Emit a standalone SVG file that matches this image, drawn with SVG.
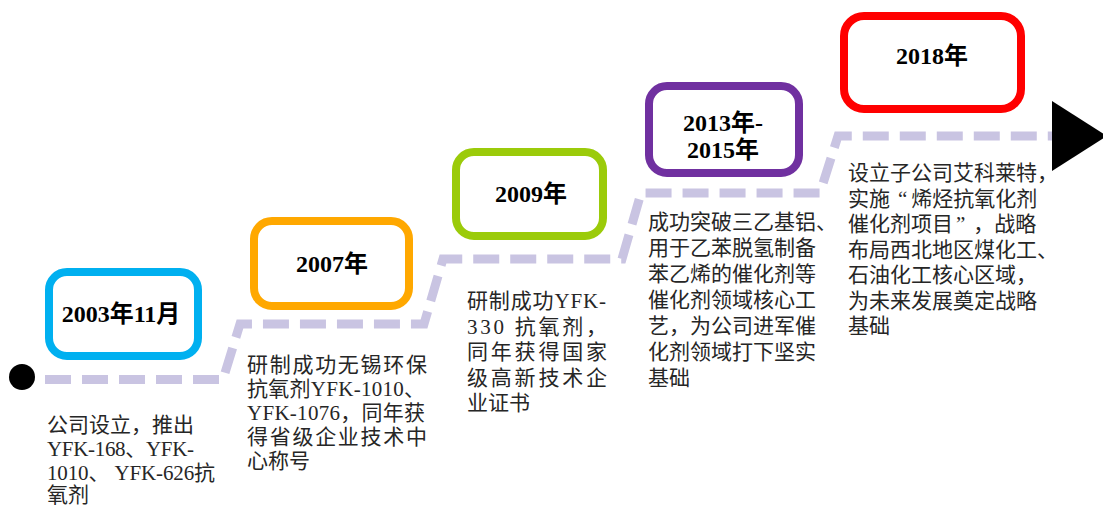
<svg xmlns="http://www.w3.org/2000/svg" width="1103" height="507" viewBox="0 0 1103 507">
<style>
.box{fill:#fff;stroke-width:8}
.title{font-family:"Liberation Serif","Noto Sans CJK SC",serif;font-weight:bold;font-size:24px;fill:#000;text-anchor:middle}
.body{font-family:"Liberation Serif","Noto Sans CJK SC",serif;font-size:21px;fill:#262626}
.path{fill:none;stroke:#c9c4e2;stroke-width:9;stroke-dasharray:26 11;stroke-linejoin:miter}
</style>
<defs>
<marker id="arrow" markerUnits="userSpaceOnUse" markerWidth="60" markerHeight="72" refX="0" refY="35" orient="auto">
<path d="M0,0 L55,35 L0,70 Z" fill="#000"/>
</marker>
</defs>
<rect width="1103" height="507" fill="#fff"/>
<g id="connectors">
<circle cx="22" cy="377" r="13" fill="#000"/>
<polyline class="path" points="45,379.5 223,379.5 240,324 424,324 443,259 622,259 641,193 820,193 838,136 1052,136" marker-end="url(#arrow)"/>
</g>
<g id="node-2003">
<rect class="box" x="49" y="272" width="149" height="84" rx="18" stroke="#00b0f0"/>
<text class="title" x="121" y="322">2003年11月</text>
<text class="body"><tspan x="47" y="432" textLength="147">公司设立，推出</tspan><tspan x="47" y="456" textLength="147">YFK-168、YFK-</tspan><tspan x="47" y="480" textLength="168">1010、 YFK-626抗</tspan><tspan x="47" y="502">氧剂</tspan></text>
</g>
<g id="node-2007">
<rect class="box" x="254" y="221" width="155" height="85" rx="18" stroke="#ffa800"/>
<text class="title" x="332" y="272">2007年</text>
<text class="body"><tspan x="247" y="372" textLength="180">研制成功无锡环保</tspan><tspan x="247" y="396" textLength="178">抗氧剂YFK-1010、</tspan><tspan x="247" y="420" textLength="178">YFK-1076，同年获</tspan><tspan x="247" y="444" textLength="180">得省级企业技术中</tspan><tspan x="247" y="468">心称号</tspan></text>
</g>
<g id="node-2009">
<rect class="box" x="456" y="152" width="147" height="84" rx="18" stroke="#9bcb0a"/>
<text class="title" x="531" y="202">2009年</text>
<text class="body"><tspan x="467" y="308" textLength="139">研制成功YFK-</tspan><tspan x="467" y="333.5" textLength="140">330  抗氧剂，</tspan><tspan x="467" y="359" textLength="140">同年获得国家</tspan><tspan x="467" y="384.5" textLength="140">级高新技术企</tspan><tspan x="467" y="410">业证书</tspan></text>
</g>
<g id="node-2013">
<rect class="box" x="649" y="86" width="150" height="87" rx="18" stroke="#7030a0"/>
<text class="title"><tspan x="723" y="131">2013年-</tspan><tspan x="723" y="158">2015年</tspan></text>
<text class="body"><tspan x="648" y="229">成功突破三乙基铝、</tspan><tspan x="648" y="255">用于乙苯脱氢制备</tspan><tspan x="648" y="281">苯乙烯的催化剂等</tspan><tspan x="648" y="307">催化剂领域核心工</tspan><tspan x="648" y="333">艺，为公司进军催</tspan><tspan x="648" y="359">化剂领域打下坚实</tspan><tspan x="648" y="385">基础</tspan></text>
</g>
<g id="node-2018">
<rect class="box" x="844" y="16" width="177" height="93" rx="20" stroke="#ff0000"/>
<text class="title" x="932" y="64">2018年</text>
<text class="body"><tspan x="848" y="180">设立子公司艾科莱特，</tspan><tspan x="848" y="205.5">实施</tspan><tspan dx="8">“</tspan><tspan dx="4">烯烃抗氧化剂</tspan><tspan x="848" y="231">催化剂项目</tspan><tspan dx="3">”</tspan><tspan dx="8">，战略</tspan><tspan x="848" y="256.5">布局西北地区煤化工、</tspan><tspan x="848" y="282">石油化工核心区域，</tspan><tspan x="848" y="307.5">为未来发展奠定战略</tspan><tspan x="848" y="333">基础</tspan></text>
</g>
</svg>
